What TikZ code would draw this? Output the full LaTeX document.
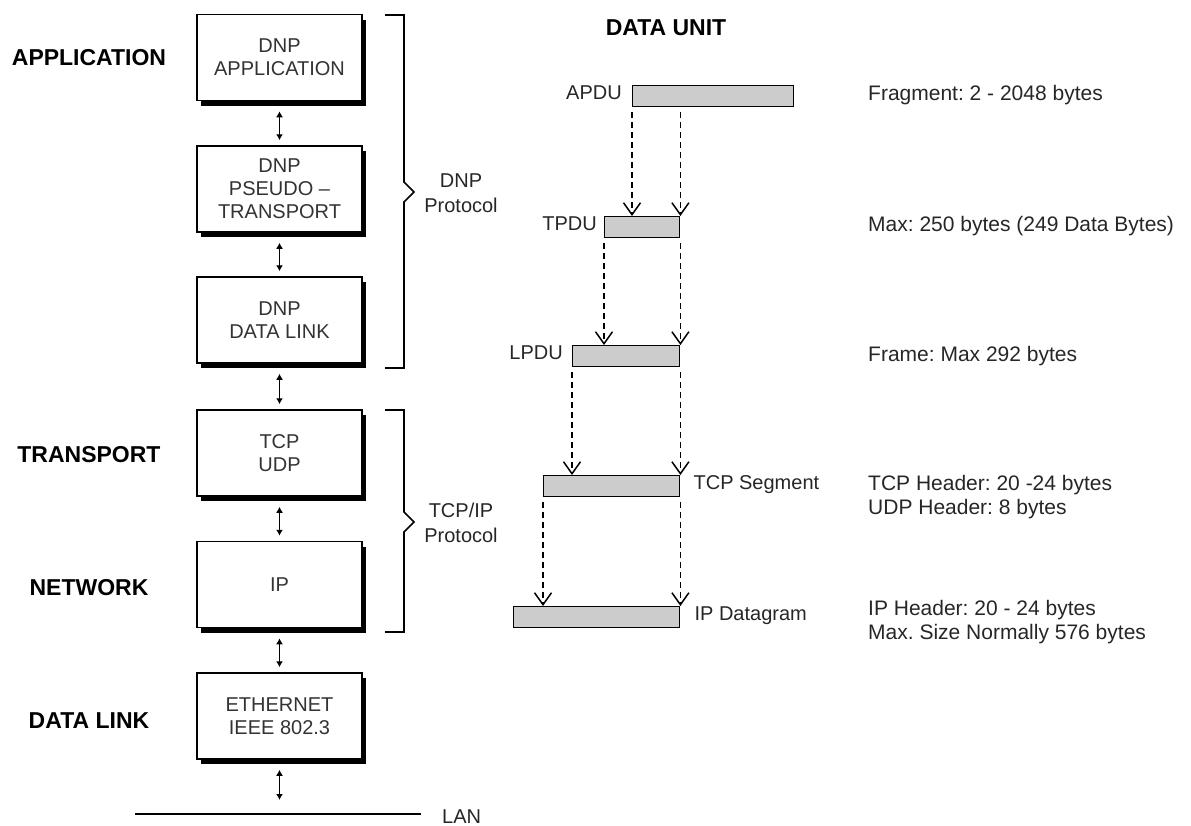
\documentclass[tikz,border=0pt]{standalone}
\usepackage{fontspec}
\setmainfont{Liberation Sans}
\usetikzlibrary{arrows.meta,shadows}
\frenchspacing

\begin{document}
\begin{tikzpicture}[x=1pt,y=-1pt,
  layerbox/.style={draw=black, line width=1.5pt, fill=white,
    minimum width=165pt, minimum height=86pt, inner sep=0pt, align=center,
    font=\fontsize{20}{23}\selectfont, text=black!80,
    drop shadow={shadow xshift=4pt, shadow yshift=-5pt, opacity=1, fill=black}},
  tier/.style={font=\bfseries\fontsize{23}{26}\selectfont, anchor=base, inner sep=0pt},
  dbl/.style={{Latex[length=6pt,width=7pt]}-{Latex[length=6pt,width=7pt]},
    line width=1.3pt, shorten <=10pt, shorten >=5pt},
  brace/.style={line width=1.6pt, line join=miter},
  brtext/.style={align=center, inner sep=0pt, font=\fontsize{20}{25}\selectfont, text=black!85},
  pdu/.style={draw=black, line width=1.4pt, fill=black!20, minimum height=21pt,
    inner sep=0pt, anchor=north west},
  pdulabel/.style={inner sep=0pt, text height=0.716em, text depth=0pt,
    font=\fontsize{20}{24}\selectfont, text=black!85},
  flow/.style={dash pattern=on 6pt off 4pt, line width=1.5pt, shorten <=5pt,
    -{Straight Barb[length=12pt,width=17pt,line width=1.5pt]}},
  note/.style={inner sep=0pt, anchor=north west, align=left,
    font=\fontsize{21}{24}\selectfont, text=black!85}
]
\useasboundingbox (0,0) rectangle (1191,825);

% protocol stack
\node[layerbox] (b1) at (279.5,57.5)  {DNP\\APPLICATION};
\node[layerbox] (b2) at (279.5,189)   {DNP\\PSEUDO –\\TRANSPORT};
\node[layerbox] (b3) at (279.5,320)   {DNP\\DATA LINK};
\node[layerbox] (b4) at (279.5,453)   {TCP\\UDP};
\node[layerbox] (b5) at (279.5,584.5) {IP};
\node[layerbox] (b6) at (279.5,716)   {ETHERNET\\IEEE 802.3};

\draw[dbl] (b1) -- (b2);
\draw[dbl] (b2) -- (b3);
\draw[dbl] (b3) -- (b4);
\draw[dbl] (b4) -- (b5);
\draw[dbl] (b5) -- (b6);

% LAN
\coordinate (lanL) at (135,814);
\coordinate (lanR) at (421,814);
\draw[line width=1.3pt] (lanL) -- (lanR);
\node[anchor=base west, inner sep=0pt, font=\fontsize{20}{24}\selectfont, text=black!85] (lan) at (442,823) {LAN};
\draw[dbl, shorten >=14pt] (b6) -- (b6 |- lanL);

% layer names
\node[tier] (tapp) at (89,65)  {APPLICATION};
\node[tier] (ttra) at (89,462) {TRANSPORT};
\node[tier] (tnet) at (89,595) {NETWORK};
\node[tier] (tdl)  at (89,728) {DATA LINK};

% braces
\draw[brace] (385,15) -- (404,15) -- (404,182) -- (414,192) -- (404,202) -- (404,368) -- (385,368);
\node[brtext] (dnpp) at (461,193) {DNP\\Protocol};
\draw[brace] (385,410) -- (404,410) -- (404,512) -- (414,522) -- (404,532) -- (404,632) -- (385,632);
\node[brtext] (tcpp) at (461,523) {TCP/IP\\Protocol};

% data units
\node[tier] (du) at (666,35) {DATA UNIT};

\node[pdu, minimum width=161pt] (apdu) at (632,85)  {};
\node[pdu, minimum width=75pt]  (tpdu) at (604,216) {};
\node[pdu, minimum width=107pt] (lpdu) at (572,345) {};
\node[pdu, minimum width=136pt] (tcps) at (543,475) {};
\node[pdu, minimum width=166pt] (ipd)  at (513,606) {};

\node[pdulabel, anchor=east] (apdul) at ([xshift=-10pt]apdu.west) {APDU};
\node[pdulabel, anchor=east] (tpdul) at ([xshift=-7pt]tpdu.west)  {TPDU};
\node[pdulabel, anchor=east] (lpdul) at ([xshift=-9pt]lpdu.west)  {LPDU};
\node[pdulabel, anchor=west] (tcpsl) at ([xshift=13pt]tcps.east)  {TCP Segment};
\node[pdulabel, anchor=west] (ipdl)  at ([xshift=14pt]ipd.east)   {IP Datagram};

\draw[flow] (apdu.south west) -- (apdu.south west |- tpdu.north);
\draw[flow] (tpdu.north east |- apdu.south) -- (tpdu.north east);
\draw[flow] (tpdu.south west) -- (tpdu.south west |- lpdu.north);
\draw[flow] (tpdu.south east) -- (lpdu.north east);
\draw[flow] (lpdu.south west) -- (lpdu.south west |- tcps.north);
\draw[flow] (lpdu.south east) -- (tcps.north east);
\draw[flow] (tcps.south west) -- (tcps.south west |- ipd.north);
\draw[flow] (tcps.south east) -- (ipd.north east);

% sizes
\node[note] (n1) at (868,85)    {Fragment: 2 - 2048 bytes};
\node[note] (n2) at (868,216.5) {Max: 250 bytes (249 Data Bytes)};
\node[note] (n3) at (868,346)   {Frame: Max 292 bytes};
\node[note] (n4) at (868,474.7) {TCP Header: 20 -24 bytes\\UDP Header: 8 bytes};
\node[note] (n5) at (868,599.7) {IP Header: 20 - 24 bytes\\Max. Size Normally 576 bytes};
\end{tikzpicture}
\end{document}
